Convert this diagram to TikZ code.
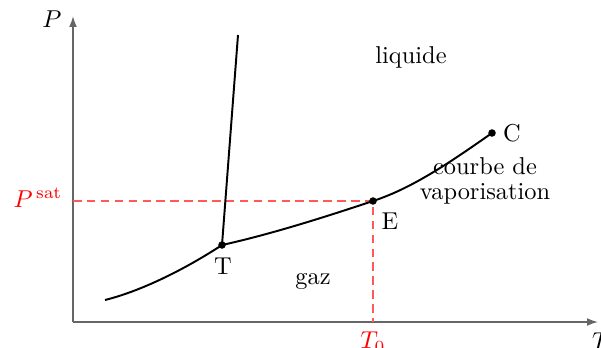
\documentclass[tikz,border=0pt]{standalone}
\usepackage{tikz,amsmath}
\usetikzlibrary{arrows.meta}

\begin{document}
\begin{tikzpicture}[x=.41pt,y=-.41pt,line width=.5pt]
\path[use as bounding box] (0,0) rectangle (601,347);
\coordinate (O) at (73,322);
\coordinate (Ytop) at (73,16);
\coordinate (Xend) at (598,322);
\coordinate (S0) at (105,300);
\coordinate (T) at (222,245);
\coordinate (E) at (373,201);
\coordinate (C) at (492,133);
\coordinate (F) at (238,35);
\draw[black!60,line width=.6pt,-{Latex[length=4.5pt,width=3.2pt]}] (O) -- (Ytop);
\draw[black!60,line width=.6pt,-{Latex[length=4.5pt,width=3.2pt]}] (O) -- (Xend);
\draw[red!65,dash pattern=on 3.5pt off 2.2pt,line width=.5pt] (O |- E) -- (E) -- (E |- O);
\draw[line width=.8pt] (S0) .. controls (145,290) and (190,266) .. (T);
\draw[line width=.8pt] (T) .. controls (272,234) and (328,216) .. (E)
  .. controls (413,188) and (452,161) .. (C);
\draw[line width=.8pt] (T) -- (F);
\draw[fill=black] (T) circle (3.1);
\draw[fill=black] (E) circle (3.1);
\draw[fill=black] (C) circle (3.1);
\node (lblP) at (52,19) {$P$};
\node (lblT) at (601,341) {$T$};
\node[red] (lblPsat) at (38,198) {$P^{\,\mathrm{sat}}$};
\node[red] (lblT0) at (373,342) {$T_0$};
\node (lblTp) at (223,266) {T};
\node (lblE) at (390,221) {E};
\node (lblC) at (512,133) {C};
\node (liq) at (411,57) {liquide};
\node (gaz) at (313,281) {gaz};
\node[align=center,inner sep=1pt,font=\linespread{.85}\selectfont] (vap) at (485,181) {courbe de\\vaporisation};
\end{tikzpicture}
\end{document}
